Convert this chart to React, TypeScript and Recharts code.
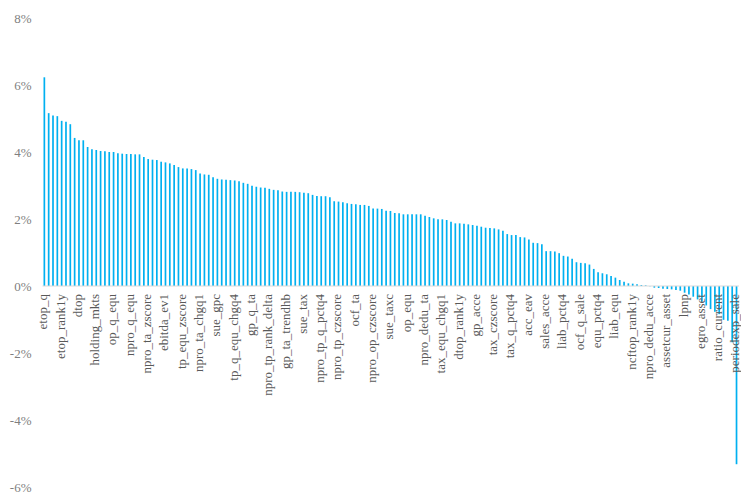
import { BarChart, Bar, XAxis, YAxis, ReferenceLine, LabelList } from 'recharts';

// one label every 4th factor, as on the axis
const tickLabels = [
  'etop_q', 'etop_rank1y', 'dtop', 'holding_mkts', 'op_q_equ', 'npro_q_equ', 'npro_ta_zscore',
  'ebitda_ev1', 'tp_equ_zscore', 'npro_ta_chgq1', 'sue_gpc', 'tp_q_equ_chgq4', 'gp_q_ta',
  'npro_tp_rank_delta', 'gp_ta_trendhb', 'sue_tax', 'npro_tp_q_pctq4', 'npro_tp_czscore', 'ocf_ta',
  'npro_op_czscore', 'sue_taxc', 'op_equ', 'npro_dedu_ta', 'tax_equ_chgq1', 'dtop_rank1y', 'gp_acce',
  'tax_czscore', 'tax_q_pctq4', 'acc_eav', 'sales_acce', 'liab_pctq4', 'ocf_q_sale', 'equ_pctq4',
  'liab_equ', 'ncftop_rank1y', 'npro_dedu_acce', 'assetcur_asset', 'lpnp', 'egro_asset',
  'ratio_current', 'periodexp_sale',
];

// values in %
const values = [
  6.23, 5.16, 5.09, 5.07, 4.93, 4.9, 4.83, 4.42, 4.35, 4.35, 4.15, 4.08, 4.06, 4.03, 4.02, 4.0, 4.0, 3.96, 3.95, 3.94,
  3.94, 3.93, 3.93, 3.85, 3.79, 3.77, 3.76, 3.71, 3.69, 3.66, 3.61, 3.55, 3.51, 3.51, 3.49, 3.46, 3.36, 3.33, 3.32, 3.25,
  3.2, 3.18, 3.17, 3.16, 3.15, 3.13, 3.08, 3.05, 2.99, 2.96, 2.94, 2.93, 2.9, 2.87, 2.86, 2.82, 2.81, 2.81, 2.81, 2.8,
  2.78, 2.77, 2.72, 2.69, 2.68, 2.68, 2.65, 2.53, 2.52, 2.5, 2.47, 2.45, 2.44, 2.42, 2.42, 2.39, 2.31, 2.31, 2.3,
  2.25, 2.24, 2.18, 2.17, 2.14, 2.14, 2.14, 2.14, 2.14, 2.1, 2.06, 2.02, 1.99, 1.99, 1.97, 1.92, 1.87, 1.87, 1.86, 1.84,
  1.82, 1.8, 1.77, 1.74, 1.73, 1.72, 1.69, 1.65, 1.55, 1.52, 1.52, 1.46, 1.45, 1.39, 1.29, 1.28, 1.25, 1.04, 1.04, 1.03,
  0.98, 0.9,
  0.88, 0.81, 0.71, 0.69, 0.68, 0.64, 0.51, 0.41, 0.38, 0.35, 0.3, 0.25, 0.18, 0.13, 0.08, 0.07, 0.05, 0.03, 0.02, -0.01,
  -0.05, -0.06, -0.08, -0.09, -0.1, -0.12, -0.14, -0.2, -0.25, -0.32, -0.4, -0.47, -0.58, -0.69, -0.77, -0.84, -1.01,
  -1.04, -1.68, -5.32,
];

const yTicks = [-6, -4, -2, 0, 2, 4, 6, 8];

const data = values.map((v, i) => ({
  name: i % 4 === 0 ? tickLabels[i / 4] : '',
  value: v,
}));

const FONT = '"Liberation Serif", "Times New Roman", serif';

// category names sit under the zero line, rotated
function ZeroLabel(props: any) {
  const vb = props.viewBox ?? props;
  const { x, y, width, height } = vb;
  const { value, index } = props;
  if (!value) return null;
  const top = Math.min(y, y + height);
  const bottom = Math.max(y, y + height);
  const zeroY = values[index] >= 0 ? bottom : top;
  const cx = x + width / 2 - 1;
  const ly = zeroY + 8;
  return (
    <text
      x={cx}
      y={ly}
      dy="0.3em"
      transform={`rotate(-90, ${cx}, ${ly})`}
      textAnchor="end"
      fontSize={13}
      fontFamily={FONT}
      fill="#595959"
    >
      {value}
    </text>
  );
}

export default function App() {
  return (
    <div style={{ position: 'absolute', left: 0, top: 0, width: 741, height: 495, background: '#fff' }}>
      <BarChart width={741} height={495} data={data} margin={{ top: 18, right: 2, bottom: 8, left: 0 }}>
        <XAxis dataKey="name" hide />
        <YAxis
          domain={[-6, 8]}
          ticks={yTicks}
          interval={0}
          tickFormatter={(v: number) => `${v}%`}
          axisLine={false}
          tickLine={false}
          width={42.5}
          tickMargin={5}
          tick={{ fontSize: 13, fill: '#7f7f7f', fontFamily: FONT }}
        />
        <ReferenceLine y={0} stroke="#d9d9d9" strokeWidth={1} />
        <Bar dataKey="value" fill="#00b0f0" barSize={1.7} isAnimationActive={false}>
          <LabelList dataKey="name" content={ZeroLabel} />
        </Bar>
      </BarChart>
    </div>
  );
}
